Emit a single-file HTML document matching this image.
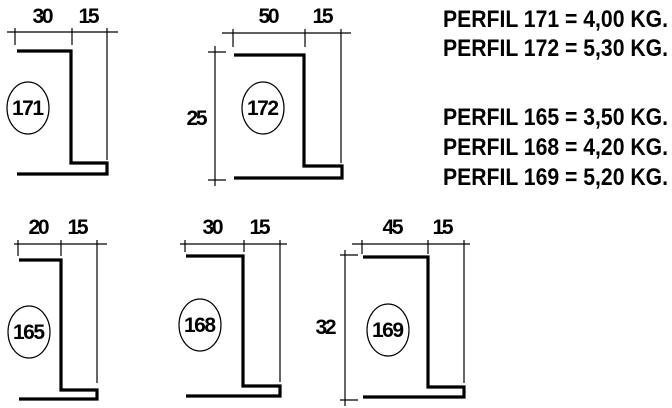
<!DOCTYPE html>
<html><head><meta charset="utf-8"><style>
html,body{margin:0;padding:0;background:#fff;width:672px;height:408px;overflow:hidden}
svg{display:block}
text{font-family:"Liberation Sans",sans-serif;font-weight:bold;fill:#000}
</style></head><body>
<svg width="672" height="408" viewBox="0 0 672 408" xmlns="http://www.w3.org/2000/svg">
<g stroke="#000" fill="none" stroke-width="1.2">
<line x1="7" y1="32" x2="118" y2="32"/>
<line x1="15" y1="28" x2="15" y2="45"/>
<line x1="72" y1="28" x2="72" y2="45"/>
<line x1="107" y1="28" x2="107" y2="160"/>
<line x1="222" y1="33" x2="351" y2="33"/>
<line x1="233" y1="29" x2="233" y2="47"/>
<line x1="305" y1="29" x2="305" y2="47"/>
<line x1="341" y1="29" x2="341" y2="163"/>
<line x1="215" y1="46" x2="215" y2="186"/>
<line x1="208" y1="52" x2="226" y2="52"/>
<line x1="208" y1="180" x2="226" y2="180"/>
<line x1="14" y1="244" x2="107" y2="244"/>
<line x1="18" y1="240" x2="18" y2="256"/>
<line x1="61" y1="240" x2="61" y2="256"/>
<line x1="97" y1="240" x2="97" y2="383"/>
<line x1="180" y1="244" x2="287" y2="244"/>
<line x1="185" y1="240" x2="185" y2="252"/>
<line x1="244" y1="240" x2="244" y2="252"/>
<line x1="280" y1="240" x2="280" y2="382"/>
<line x1="352" y1="244" x2="470" y2="244"/>
<line x1="362" y1="240" x2="362" y2="254"/>
<line x1="428" y1="240" x2="428" y2="254"/>
<line x1="464" y1="240" x2="464" y2="383"/>
<line x1="345" y1="250" x2="345" y2="406"/>
<line x1="340" y1="255" x2="358" y2="255"/>
<line x1="340" y1="400" x2="358" y2="400"/>
<ellipse cx="28" cy="108" rx="21" ry="26"/>
<ellipse cx="263" cy="108" rx="21" ry="26"/>
<ellipse cx="29" cy="332" rx="21" ry="26"/>
<ellipse cx="200" cy="325" rx="21" ry="26"/>
<ellipse cx="388" cy="330" rx="21" ry="26"/>
</g>
<g stroke="#000" fill="none" stroke-width="3.2" stroke-linejoin="miter">
<path d="M17 51 H71 V163 H107 V174 H17"/>
<path d="M234 55 H304 V166 H342 V178 H234"/>
<path d="M19 260 H61 V390 H97 V399 H19"/>
<path d="M186 256 H243 V386 H280 V396 H186"/>
<path d="M363 257 H428 V387 H464 V397 H363"/>
</g>
<g font-size="21" text-anchor="middle" lengthAdjust="spacingAndGlyphs">
<text x="43" y="23" textLength="21">30</text><text x="89" y="23" textLength="21">15</text>
<text x="269" y="23" textLength="21">50</text><text x="323" y="23" textLength="21">15</text>
<text x="197" y="125" textLength="21">25</text>
<text x="39" y="234" textLength="21">20</text><text x="78" y="234" textLength="21">15</text>
<text x="213" y="234" textLength="21">30</text><text x="260" y="234" textLength="21">15</text>
<text x="393" y="234" textLength="21" font-weight="normal">45</text><text x="443" y="234" textLength="21">15</text>
<text x="326" y="334" textLength="21">32</text>
</g>
<g font-size="21" text-anchor="middle" lengthAdjust="spacingAndGlyphs">
<text x="28" y="115" textLength="32">171</text>
<text x="263" y="115" textLength="32">172</text>
<text x="29" y="339" textLength="32">165</text>
<text x="200" y="332" textLength="32">168</text>
<text x="388" y="337" textLength="32">169</text>
</g>
<g font-size="24">
<text x="443" y="27" textLength="225" lengthAdjust="spacingAndGlyphs">PERFIL 171 = 4,00 KG.</text>
<text x="443" y="56" textLength="225" lengthAdjust="spacingAndGlyphs">PERFIL 172 = 5,30 KG.</text>
<text x="443" y="125" textLength="225" lengthAdjust="spacingAndGlyphs">PERFIL 165 = 3,50 KG.</text>
<text x="443" y="155" textLength="225" lengthAdjust="spacingAndGlyphs">PERFIL 168 = 4,20 KG.</text>
<text x="443" y="185" textLength="225" lengthAdjust="spacingAndGlyphs">PERFIL 169 = 5,20 KG.</text>
</g>
</svg>
</body></html>
